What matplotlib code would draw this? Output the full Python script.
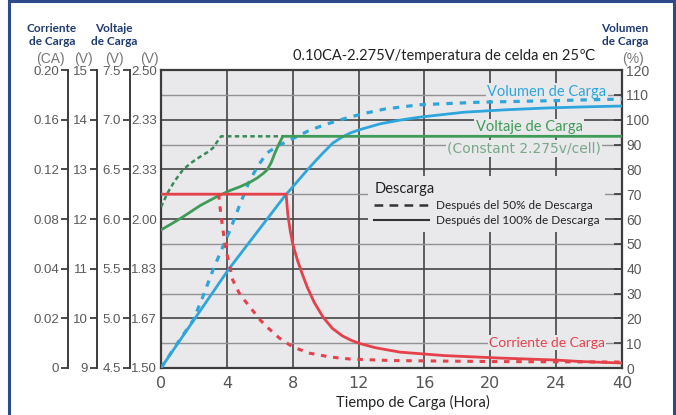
import numpy as np
import matplotlib.pyplot as plt
from matplotlib.lines import Line2D
from matplotlib.patches import Rectangle

# x axis is not linear: 0..24 h in steps of 4, then jump to 40 h
hour_ticks = [0, 4, 8, 12, 16, 20, 24, 40]
pct_ticks = [0, 20, 40, 60, 80, 100, 120]

# left scales (labels as printed on the sheet)
ca_labels = ['0', '0.02', '0.04', '0.08', '0.12', '0.16', '0.20']
v12_labels = ['9', '10', '11', '12', '13', '14', '15']
v6_labels = ['4.5', '5.0', '5.5', '6.0', '6.5', '7.0', '7.5']
v2_labels = ['1.50', '1.67', '1.83', '2.00', '2.33', '2.33', '2.50']
pct_right = list(range(0, 121, 10))

# curves, hours -> % of right scale
cur100_h = [0, 7.6, 7.7, 7.84, 8.0, 8.28, 8.6, 8.88, 9.3, 9.84, 10.4, 11.0, 11.5,
            12.0, 13.0, 14.5, 17.2, 20.6, 24, 30, 40]
cur100_v = [70, 70, 62, 55.6, 50, 43.5, 37.5, 32.6, 26.5, 20.5, 16.0, 13.0, 11.3,
            10.0, 8.2, 6.4, 5.0, 4.0, 3.2, 2.6, 2.0]
cur50_h = [3.5, 3.6, 3.68, 3.84, 4.0, 4.36, 4.8, 5.4, 6.0, 6.44, 7.2, 8.0, 9.0,
           10.3, 11.5, 14, 20, 24, 40]
cur50_v = [70, 64, 59.6, 52, 46, 35.4, 29.5, 24.6, 19.5, 16.5, 12.0, 8.5, 6.0,
           4.4, 3.6, 3.0, 2.6, 2.5, 2.4]

volt100_h = [0, 0.7, 1.32, 2.4, 3.48, 4.2, 4.8, 5.4, 5.84, 6.2, 6.44, 6.7, 6.92,
             7.15, 7.4, 40]
volt100_v = [55.6, 58.3, 60.8, 65.5, 69.3, 71.5, 73, 74.8, 76.5, 78.3, 79.7, 82.8,
             86.6, 90, 93.3, 93.3]
volt50_h = [0, 0.4, 0.8, 1.32, 1.8, 2.36, 2.8, 3.16, 3.4, 3.65, 7.4]
volt50_v = [64.8, 70.5, 75, 79.7, 82.5, 85, 86.8, 88.6, 91, 93.3, 93.3]

cap100_h = [0, 4.08, 7.52, 7.84, 8.4, 8.88, 9.4, 9.84, 10.44, 11.0, 11.48, 12.08,
            13.3, 14.5, 15.7, 18.4, 21, 23.4, 32, 40]
cap100_v = [0, 39.5, 69.3, 71.7, 76, 79.7, 83.5, 86.6, 90.6, 93, 94.6, 96,
            98.3, 99.8, 101, 103, 104, 104.7, 105.2, 105.5]
cap50_h = [0, 1.0, 1.96, 2.5, 3.16, 3.7, 4.2, 4.8, 5.4, 5.9, 6.44, 7.1, 7.84, 9.04,
           10.2, 11.28, 12.4, 13.6, 15.7, 19.2, 23.4, 32, 40]
cap50_v = [0, 10, 19.3, 28, 39.5, 48, 55.6, 66, 75.7, 81.5, 86.6, 89.5, 91.8, 95.8,
           98.5, 100.7, 102.6, 104.3, 106, 107, 107.6, 108, 108.3]


def pos(h):
    return np.interp(h, hour_ticks, np.arange(len(hour_ticks)))


W, H = 676, 415
fig = plt.figure(figsize=(6.76, 4.15), dpi=100)
fig.patch.set_facecolor('white')

L, R, T, B = 161, 622, 70, 368
bg = '#e9e9ec'
navy = '#1f3a6f'
tickgray = '#5a5a5a'
narrow = ['Liberation Sans Narrow', 'Liberation Sans', 'DejaVu Sans']

ax = fig.add_axes([L / W, 1 - B / H, (R - L) / W, (B - T) / H])
ax.set_facecolor(bg)
ax.set_xlim(0, 7)
ax.set_ylim(0, 120)
ax.set_axisbelow(True)

ax.set_xticks(np.arange(len(hour_ticks)), [str(h) for h in hour_ticks])
ax.set_yticks(pct_ticks, v2_labels)
ax.set_yticks(range(10, 120, 20), minor=True)
ax.grid(which='major', color='#454545', lw=1.2)
ax.grid(which='minor', axis='y', color='#929292', lw=1.0)
ax.tick_params(axis='x', length=0, pad=6, labelsize=11.5, labelcolor='#555555')
ax.tick_params(axis='y', which='both', length=0, pad=3, labelsize=9.5, labelcolor=tickgray)
for lab in ax.get_xticklabels():
    lab.set_family('DejaVu Sans')
for lab in ax.get_yticklabels():
    lab.set_family(narrow)
for s in ax.spines.values():
    s.set_color('#3c3c3c')
    s.set_linewidth(1.6)

# right axis: charge volume %
axr = ax.twinx()
axr.set_ylim(0, 120)
axr.set_yticks(pct_right, [str(v) for v in pct_right])
axr.tick_params(axis='y', direction='in', length=6, width=1.2, color='#3c3c3c',
                pad=3, labelsize=10, labelcolor=tickgray)
for lab in axr.get_yticklabels():
    lab.set_family(narrow)
for s in axr.spines.values():
    s.set_visible(False)

# extra left scales
for xs, labels in [(68, ca_labels), (97, v12_labels), (130, v6_labels)]:
    a = fig.add_axes([xs / W, 1 - B / H, 0.0001, (B - T) / H])
    a.patch.set_visible(False)
    for k in ['right', 'top', 'bottom']:
        a.spines[k].set_visible(False)
    a.spines['left'].set_color('#3c3c3c')
    a.spines['left'].set_linewidth(1.4)
    a.set_xticks([])
    a.set_ylim(0, 120)
    a.set_yticks(pct_ticks, labels)
    a.tick_params(axis='y', length=5, width=1.3, color='#3c3c3c', pad=1.5,
                  labelsize=9.5, labelcolor=tickgray)
    for lab in a.get_yticklabels():
        lab.set_family(narrow)

blue = '#2ea6dc'
red = '#e5414b'
green = '#3f9c58'
green_d = '#3a8a58'

ax.plot(pos(cap100_h), cap100_v, color=blue, lw=2.0, zorder=3)
ax.plot(pos(cap50_h), cap50_v, color=blue, lw=2.3, dashes=(2.0, 2.2), zorder=3)
ax.plot(pos(volt100_h), volt100_v, color=green, lw=2.0, zorder=3)
ax.plot(pos(volt50_h), volt50_v, color=green_d, lw=1.8, dashes=(1.8, 1.3), zorder=3)
ax.plot(pos(cur50_h), cur50_v, color=red, lw=2.2, dashes=(1.8, 2.2), zorder=3)
ax.plot(pos(cur100_h), cur100_v, color=red, lw=2.0, zorder=4)

box = dict(facecolor=bg, edgecolor='none', pad=1.0)
ax.text(5.86, 111.2, 'Volumen de Carga', color=blue, fontsize=10.5, family='Lato',
        ha='center', va='center', bbox=box, zorder=1.5)
ax.text(5.59, 97, 'Voltaje de Carga', color=green, fontsize=10.5, family='Lato',
        ha='center', va='center', bbox=box, zorder=1.5)
ax.text(5.51, 88.4, '(Constant 2.275v/cell)', color='#78a88a', fontsize=10,
        family='DejaVu Sans', ha='center', va='center', bbox=box, zorder=1.5)
ax.text(5.86, 10.2, 'Corriente de Carga', color=red, fontsize=10, family='Lato',
        ha='center', va='center', bbox=box, zorder=1.5)

handles = [Line2D([], [], color='#333333', lw=1.8, dashes=(3.5, 2.5)),
           Line2D([], [], color='#333333', lw=1.5)]
leg = ax.legend(handles, ['Después del 50% de Descarga', 'Después del 100% de Descarga'],
                title='Descarga', loc='upper left', bbox_to_anchor=(0.437, 0.665),
                frameon=True, facecolor=bg, edgecolor='none', framealpha=1,
                fancybox=False, handlelength=4.6, handletextpad=0.6,
                borderpad=0.5, labelspacing=0.35, alignment='left',
                prop={'family': 'Lato', 'size': 8.5},
                title_fontproperties={'family': 'Lato', 'size': 10.5})
leg.get_title().set_color('#222222')
for t in leg.get_texts():
    t.set_color('#222222')

# titles / headers
fig.text(444 / W, 1 - 56 / H, '0.10CA-2.275V/temperatura de celda en 25℃',
         ha='center', va='center', fontsize=10.5, color='#222222',
         family=['Lato', 'DejaVu Sans'])
fig.text(413 / W, 1 - 402 / H, 'Tiempo de Carga (Hora)', ha='center', va='center',
         fontsize=10.5, color='#222222', family='Lato')

hdr = dict(ha='center', va='center', fontsize=8.5, color=navy, family='Lato',
           fontweight='bold', linespacing=1.15)
fig.text(52 / W, 1 - 35 / H, 'Corriente\nde Carga', **hdr)
fig.text(114 / W, 1 - 35 / H, 'Voltaje\nde Carga', **hdr)
fig.text(625 / W, 1 - 35 / H, 'Volumen\nde Carga', **hdr)

unit = dict(ha='center', va='center', fontsize=10, color='#777777', family=narrow)
fig.text(50 / W, 1 - 59 / H, '(CA)', **unit)
fig.text(83 / W, 1 - 59 / H, '(V)', **unit)
fig.text(114 / W, 1 - 59 / H, '(V)', **unit)
fig.text(149 / W, 1 - 59 / H, '(V)', **unit)
fig.text(633 / W, 1 - 59 / H, '(%)', **unit)

# blue frame of the sheet
fig.add_artist(Rectangle((9 / W, -0.05), (674 - 9) / W, 1.05 - 1.5 / H,
                         transform=fig.transFigure, fill=False,
                         edgecolor='#2c4a8c', lw=2.2))

fig.savefig('out.png', dpi=100)
